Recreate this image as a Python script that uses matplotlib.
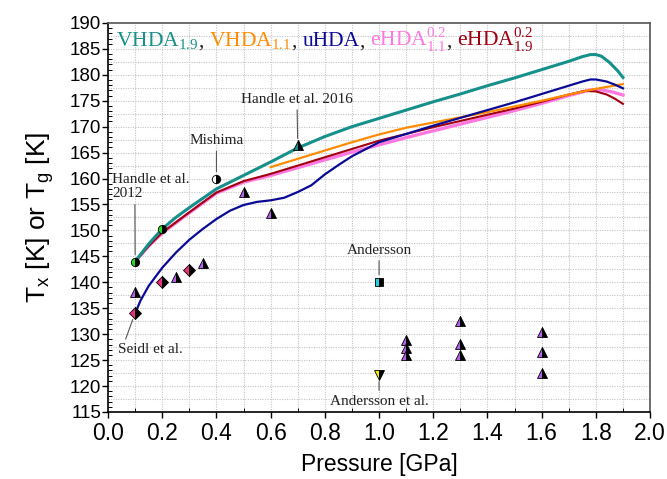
import matplotlib
matplotlib.use("Agg")
import matplotlib.pyplot as plt
import numpy as np
from matplotlib.ticker import MultipleLocator

# curves
p_vhda19 = [0.1, 0.15, 0.2, 0.25, 0.3, 0.4, 0.5, 0.6, 0.7, 0.8, 0.9, 1.0, 1.1, 1.2, 1.3, 1.4,
            1.5, 1.6, 1.7, 1.75, 1.78, 1.8, 1.82, 1.85, 1.88, 1.9]
t_vhda19 = [144.0, 147.4, 150.3, 152.5, 154.4, 158.0, 160.6, 163.2, 165.9, 168.1, 170.0, 171.6,
            173.2, 174.8, 176.3, 177.9, 179.4, 181.0, 182.6, 183.5, 183.9, 183.9, 183.6, 182.4,
            180.8, 179.5]

p_vhda11 = [0.6, 0.7, 0.8, 0.9, 1.0, 1.1, 1.2, 1.3, 1.4, 1.5, 1.6, 1.7, 1.8, 1.9]
t_vhda11 = [162.2, 163.8, 165.4, 167.0, 168.5, 169.8, 170.8, 171.8, 172.8, 173.9, 175.0, 176.2,
            177.3, 178.2]

p_uhda = [0.1, 0.12, 0.15, 0.2, 0.25, 0.3, 0.35, 0.4, 0.45, 0.5, 0.55, 0.6, 0.65, 0.7, 0.75,
          0.8, 0.85, 0.9, 1.0, 1.1, 1.2, 1.3, 1.4, 1.5, 1.6, 1.7, 1.75, 1.78, 1.8, 1.84, 1.87, 1.9]
t_uhda = [134.0, 136.5, 139.3, 142.8, 145.7, 148.2, 150.3, 152.2, 153.8, 154.9, 155.5, 155.8,
          156.3, 157.4, 158.7, 160.8, 162.6, 164.3, 167.0, 168.6, 170.2, 171.7, 173.2, 174.7,
          176.3, 177.9, 178.7, 179.1, 179.1, 178.7, 178.1, 177.4]

p_ehda11 = [0.1, 0.15, 0.2, 0.3, 0.4, 0.5, 0.6, 0.7, 0.8, 0.9, 1.0, 1.1, 1.2, 1.3, 1.4, 1.5,
            1.6, 1.7, 1.78, 1.82, 1.86, 1.9]
t_ehda11 = [144.0, 147.0, 149.5, 153.4, 157.2, 159.3, 160.6, 162.1, 163.6, 165.1, 166.5, 167.9,
            169.2, 170.5, 171.8, 173.1, 174.5, 176.0, 177.1, 177.1, 176.7, 176.1]

p_ehda19 = [0.1, 0.15, 0.2, 0.3, 0.4, 0.5, 0.6, 0.7, 0.8, 0.9, 1.0, 1.1, 1.2, 1.3, 1.4, 1.5,
            1.6, 1.7, 1.76, 1.8, 1.84, 1.87, 1.9]
t_ehda19 = [144.0, 147.0, 149.6, 153.5, 157.3, 159.5, 160.9, 162.5, 164.1, 165.7, 167.3, 168.6,
            169.9, 171.1, 172.3, 173.5, 174.8, 176.2, 176.9, 176.8, 176.2, 175.4, 174.4]

# literature points
p_tri = [0.1, 0.25, 0.35, 0.5, 0.6, 1.1, 1.1, 1.1, 1.3, 1.3, 1.3, 1.6, 1.6, 1.6]
t_tri = [138.2, 141.1, 143.8, 157.5, 153.4, 128.8, 127.4, 126.0, 132.6, 128.1, 126.0, 130.5,
         126.6, 122.5]
p_seidl = [0.1, 0.2, 0.3]
t_seidl = [134.1, 140.0, 142.3]
p_handle12 = [0.1, 0.2]
t_handle12 = [144.0, 150.2]
p_mishima, t_mishima = [0.4], [160.0]
p_handle16, t_handle16 = [0.7], [166.4]
p_andersson, t_andersson = [1.0], [140.1]
p_andersson_al, t_andersson_al = [1.0], [122.2]

teal = "#16908a"
orange = "#ff8c00"
navy = "#0a0a96"
pink = "#ff78e0"
darkred = "#a00010"

serif = "Liberation Serif"
sans = "Liberation Sans"

fig = plt.figure(figsize=(6.67, 4.79), dpi=100)
ax = fig.add_axes([0.162, 0.140, 0.8126, 0.8121])

ax.set_xlim(0.0, 2.0)
ax.set_ylim(115, 190)
ax.xaxis.set_major_locator(MultipleLocator(0.2))
ax.xaxis.set_minor_locator(MultipleLocator(0.1))
ax.yaxis.set_major_locator(MultipleLocator(5))
ax.yaxis.set_minor_locator(MultipleLocator(1))

# dotted grid
for gx in np.arange(0.1, 2.0, 0.1):
    ax.axvline(gx, color="#c4c4c4", lw=0.8, ls=(0, (1, 1.2)), zorder=0)
for gy in np.arange(117.5, 190, 2.5):
    ax.axhline(gy, color="#c4c4c4", lw=0.8, ls=(0, (1, 1.2)), zorder=0)

ax.plot(p_ehda11, t_ehda11, color=pink, lw=2.4, zorder=2)
ax.plot(p_ehda19, t_ehda19, color=darkred, lw=1.5, zorder=2.1)
ax.plot(p_vhda11, t_vhda11, color=orange, lw=1.6, zorder=2.2)
ax.plot(p_uhda, t_uhda, color=navy, lw=1.6, zorder=2.3)
ax.plot(p_vhda19, t_vhda19, color=teal, lw=2.2, zorder=2.4)

mk = dict(ls="none", mec="black", mew=0.6, fillstyle="left", markerfacecoloralt="black", zorder=4)
ax.plot(p_tri, t_tri, marker="^", ms=7.5, mfc="#b560e8", **mk)
ax.plot(p_seidl, t_seidl, marker="D", ms=6, mfc="#e8307e", **mk)
ax.plot(p_handle12, t_handle12, marker="o", ms=6, mfc="#22dd22", **mk)
ax.plot(p_mishima, t_mishima, marker="o", ms=6, mfc="white", **mk)
ax.plot(p_handle16, t_handle16, marker="^", ms=7.5, mfc=teal, **mk)
ax.plot(p_andersson, t_andersson, marker="s", ms=5.5, mfc="#20d0e0", **mk)
ax.plot(p_andersson_al, t_andersson_al, marker="v", ms=7.5, mfc="#f0f000", **mk)

# labels with leader lines
lead = dict(arrowstyle="-", color="#555555", lw=0.8, shrinkA=1, shrinkB=5)
afont = dict(family=serif, fontsize=11, color="#222222")
ax.annotate("Handle et al. 2016", xy=(0.7, 166.4), xytext=(0.697, 175.3),
            ha="center", va="center", arrowprops=lead, **afont)
ax.annotate("Mishima", xy=(0.4, 160.0), xytext=(0.4, 167.3),
            ha="center", va="center", arrowprops=lead, **afont)
ax.annotate("Handle et al.\n2012", xy=(0.1, 144.0), xytext=(0.016, 158.4),
            ha="left", va="center", linespacing=1.1, arrowprops=dict(lead, relpos=(0.29, 0.0)),
            **afont)
ax.annotate("Seidl et al.", xy=(0.1, 134.1), xytext=(0.155, 127.0),
            ha="center", va="center", arrowprops=dict(lead, relpos=(0.1, 1.0)), **afont)
ax.annotate("Andersson", xy=(1.0, 140.1), xytext=(1.0, 146.2),
            ha="center", va="center", arrowprops=lead, **afont)
ax.annotate("Andersson et al.", xy=(1.0, 122.2), xytext=(1.0, 117.1),
            ha="center", va="center", arrowprops=lead, **afont)

# coloured legend line at the top
pieces = [
    (r"VHDA$_\mathregular{1.9}$", teal), (", ", "#222222"),
    (r"VHDA$_\mathregular{1.1}$", orange), (", ", "#222222"),
    ("uHDA", navy), (", ", "#222222"),
    (r"eHDA$^\mathregular{0.2}_\mathregular{1.1}$", pink), (", ", "#222222"),
    (r"eHDA$^\mathregular{0.2}_\mathregular{1.9}$", darkred),
]
prev = None
for s, c in pieces:
    if prev is None:
        prev = ax.text(0.015, 0.94, s, transform=ax.transAxes, color=c, family=serif,
                       fontsize=15.5, ha="left", va="baseline", zorder=5)
    else:
        prev = ax.annotate(s, xy=(1, 0.94), xycoords=(prev, "axes fraction"), color=c,
                           family=serif, fontsize=15.5, ha="left", va="baseline", zorder=5)

for side in ["top", "right"]:
    ax.spines[side].set_color("#555555")
for side in ["left", "bottom"]:
    ax.spines[side].set_color("black")
for sp in ax.spines.values():
    sp.set_linewidth(1.2)

ax.tick_params(axis="both", which="major", direction="out", length=4, width=1)
ax.tick_params(axis="both", which="minor", direction="in", length=3, width=0.7)
ax.tick_params(axis="x", which="major", labelsize=16.5, pad=3)
ax.tick_params(axis="y", which="major", labelsize=13.5, pad=1)
for lab in ax.get_xticklabels() + ax.get_yticklabels():
    lab.set_family(sans)
ax.xaxis.set_major_formatter(matplotlib.ticker.FormatStrFormatter("%.1f"))

ax.set_xlabel("Pressure [GPa]", family=sans, fontsize=16.5, labelpad=6)
ax.set_ylabel(r"T$_\mathregular{x}$ [K] or T$_\mathregular{g}$ [K]", family=sans,
              fontsize=19, labelpad=10)

fig.savefig("out.png", dpi=100)
